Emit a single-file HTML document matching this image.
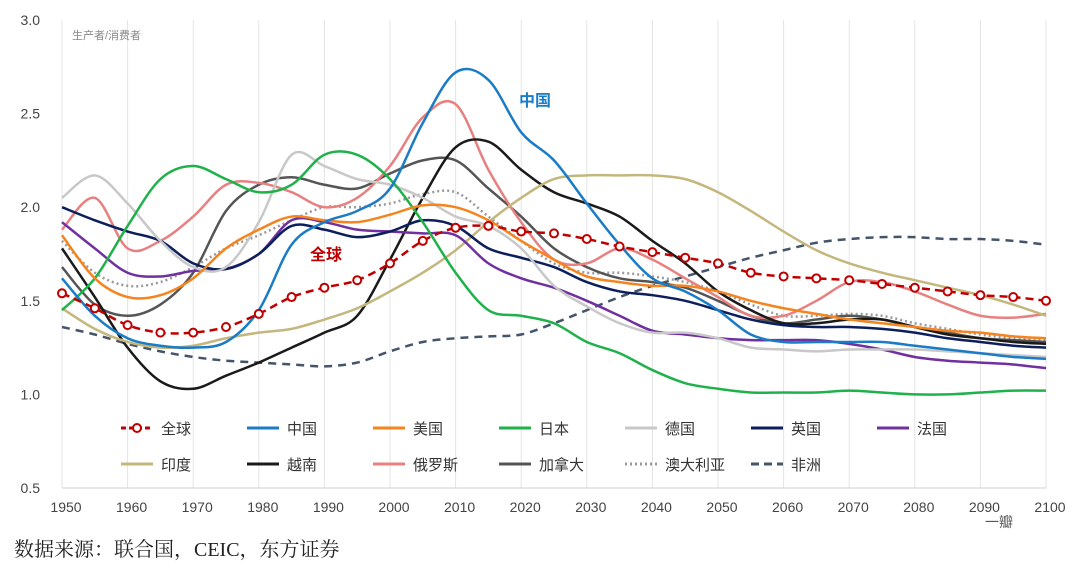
<!DOCTYPE html>
<html><head><meta charset="utf-8"><style>
body{margin:0;background:#fff;width:1080px;height:569px;overflow:hidden;font-family:"Liberation Sans","Noto Sans CJK SC",sans-serif}
svg text{font-family:"Liberation Sans","Noto Sans CJK SC",sans-serif}
</style></head><body>
<svg id="c" width="1080" height="569"></svg>
<script>
const years=[];for(let y=1950;y<=2100;y+=5)years.push(y);
const yTicks=[0.5,1.0,1.5,2.0,2.5,3.0];
const xTicks=[1950,1960,1970,1980,1990,2000,2010,2020,2030,2040,2050,2060,2070,2080,2090,2100];
const global=[1.54,1.46,1.37,1.33,1.33,1.36,1.43,1.52,1.57,1.61,1.70,1.82,1.89,1.90,1.87,1.86,1.83,1.79,1.76,1.73,1.70,1.65,1.63,1.62,1.61,1.59,1.57,1.55,1.53,1.52,1.50];
const china=[1.62,1.42,1.30,1.26,1.25,1.28,1.45,1.80,1.92,1.98,2.10,2.45,2.72,2.68,2.40,2.25,2.02,1.80,1.62,1.55,1.45,1.32,1.28,1.28,1.28,1.28,1.26,1.24,1.22,1.20,1.19];
const usa=[1.85,1.62,1.52,1.53,1.62,1.78,1.88,1.95,1.93,1.92,1.96,2.01,2.00,1.93,1.82,1.72,1.63,1.60,1.58,1.58,1.55,1.50,1.46,1.43,1.40,1.38,1.36,1.34,1.33,1.31,1.30];
const japan=[1.45,1.62,1.90,2.15,2.22,2.15,2.08,2.12,2.28,2.28,2.15,1.92,1.65,1.45,1.42,1.38,1.28,1.22,1.13,1.06,1.03,1.01,1.01,1.01,1.02,1.01,1.00,1.00,1.01,1.02,1.02];
const germany=[2.05,2.17,2.02,1.82,1.68,1.68,1.92,2.28,2.22,2.15,2.12,2.05,1.95,1.90,1.78,1.58,1.47,1.38,1.33,1.33,1.30,1.25,1.24,1.23,1.24,1.24,1.24,1.23,1.22,1.21,1.20];
const uk=[2.00,1.93,1.87,1.82,1.70,1.67,1.75,1.90,1.88,1.84,1.87,1.93,1.90,1.78,1.73,1.68,1.60,1.55,1.53,1.50,1.45,1.40,1.37,1.36,1.36,1.35,1.33,1.30,1.28,1.26,1.25];
const france=[1.92,1.78,1.65,1.63,1.66,1.67,1.75,1.93,1.92,1.88,1.87,1.86,1.85,1.70,1.62,1.57,1.50,1.42,1.34,1.32,1.30,1.29,1.29,1.29,1.27,1.24,1.20,1.18,1.17,1.16,1.14];
const india=[1.46,1.35,1.28,1.25,1.26,1.30,1.33,1.35,1.40,1.46,1.55,1.65,1.77,1.92,2.05,2.15,2.17,2.17,2.17,2.15,2.08,1.98,1.87,1.77,1.70,1.65,1.61,1.57,1.53,1.48,1.42];
const vietnam=[1.78,1.52,1.25,1.07,1.03,1.10,1.17,1.25,1.33,1.42,1.72,2.05,2.32,2.35,2.20,2.08,2.02,1.95,1.82,1.70,1.55,1.45,1.38,1.38,1.40,1.40,1.36,1.32,1.30,1.28,1.27];
const russia=[1.88,2.05,1.78,1.82,1.95,2.12,2.13,2.08,2.00,2.05,2.22,2.48,2.55,2.20,1.92,1.72,1.70,1.78,1.72,1.62,1.52,1.42,1.42,1.50,1.60,1.60,1.55,1.48,1.42,1.41,1.43];
const canada=[1.68,1.48,1.42,1.48,1.65,1.98,2.12,2.16,2.12,2.10,2.18,2.25,2.25,2.10,1.95,1.78,1.68,1.62,1.60,1.57,1.50,1.42,1.38,1.40,1.42,1.40,1.36,1.33,1.30,1.29,1.28];
const australia=[1.82,1.65,1.58,1.60,1.68,1.78,1.85,1.93,2.00,2.00,2.02,2.07,2.08,1.95,1.82,1.70,1.65,1.65,1.63,1.60,1.55,1.48,1.42,1.42,1.43,1.42,1.38,1.35,1.32,1.30,1.29];
const africa=[1.36,1.32,1.27,1.23,1.20,1.18,1.17,1.16,1.15,1.17,1.23,1.28,1.30,1.31,1.32,1.38,1.45,1.52,1.58,1.63,1.68,1.73,1.77,1.81,1.83,1.84,1.84,1.83,1.83,1.82,1.80];

const NS='http://www.w3.org/2000/svg';const svg=document.getElementById('c');
const X0=62,X1=1046,Y0=488,Y1=20;
const xs=y=>X0+(y-1950)/150*(X1-X0);
const ys=v=>Y0-(v-0.5)/2.5*(Y0-Y1);
function mk(t,a,p){const e=document.createElementNS(NS,t);for(const k in a)e.setAttribute(k,a[k]);(p||svg).appendChild(e);return e;}
xTicks.forEach(t=>{
 const g=mk('line',{x1:xs(t),x2:xs(t),y1:Y1,y2:Y0,stroke:'#e4e4e4','stroke-width':1});
 
 
 const l=mk('text',{x:xs(t)+4,y:512,'font-size':14,fill:'#444','text-anchor':'middle'});l.textContent=t;
 
 
});
yTicks.forEach(t=>{
 const l=mk('text',{x:40,y:ys(t)+5,'font-size':14,fill:'#444','text-anchor':'end'});l.textContent=t.toFixed(1);
 
 
});
const ax=mk('line',{x1:X0,x2:X1,y1:Y0,y2:Y0,stroke:'#d0d0d0'});


function path(vals){const p=vals.map((v,i)=>[xs(years[i]),ys(v)]);let d='M'+p[0][0]+','+p[0][1];
 for(let i=0;i<p.length-1;i++){const a=p[i-1]||p[i],b=p[i],c=p[i+1],e=p[i+2]||c;
 d+=' C'+(b[0]+(c[0]-a[0])/6)+','+(b[1]+(c[1]-a[1])/6)+' '+(c[0]-(e[0]-b[0])/6)+','+(c[1]-(e[1]-b[1])/6)+' '+c[0]+','+c[1];}return d;}
const series=[
 ['africa',africa,'#44546a',2.5,'8 6','非洲'],['australia',australia,'#999',2.5,'2 3','澳大利亚'],
 ['canada',canada,'#555',2.5,'','加拿大'],['russia',russia,'#e88080',2.5,'','俄罗斯'],['vietnam',vietnam,'#1a1a1a',2.5,'','越南'],
 ['india',india,'#c4b77e',2.5,'','印度'],['france',france,'#7030a0',2.5,'','法国'],['uk',uk,'#0c1f5c',2.5,'','英国'],
 ['germany',germany,'#c8c8c8',2.5,'','德国'],['japan',japan,'#1fb24a',2.5,'','日本'],['usa',usa,'#f5841f',2.5,'','美国'],
 ['china',china,'#1b7cc6',2.5,'','中国']];
series.forEach(s=>{const e=mk('path',{d:path(s[1]),fill:'none',stroke:s[2],'stroke-width':s[3],'stroke-dasharray':s[4]});
 
 });
const gl=mk('path',{d:path(global),fill:'none',stroke:'#c00000','stroke-width':2.5,'stroke-dasharray':'8 5'});


global.forEach((v,i)=>{const c=mk('circle',{cx:xs(years[i]),cy:ys(v),r:4,fill:'#fff',stroke:'#c00000','stroke-width':2});
 
 });
// legend
const leg=[['全球','#c00000','5 3',1],['中国','#1b7cc6','',0],['美国','#f5841f','',0],['日本','#1fb24a','',0],['德国','#c8c8c8','',0],['英国','#0c1f5c','',0],['法国','#7030a0','',0],
 ['印度','#c4b77e','',0],['越南','#1a1a1a','',0],['俄罗斯','#e88080','',0],['加拿大','#555','',0],['澳大利亚','#999','2 3',0],['非洲','#44546a','8 5',0]];
leg.forEach((l,i)=>{const r=i<7?0:1,c=i<7?i:i-7;const x=121+c*126,y=r?464:428;
 const ln=mk('line',{x1:x,x2:x+32,y1:y,y2:y,stroke:l[1],'stroke-width':3,'stroke-dasharray':l[2]});
 
 
 if(l[3]){const cc=mk('circle',{cx:x+16,cy:y,r:4,fill:'#fff',stroke:l[1],'stroke-width':2});}
 const t=mk('text',{x:x+40,y:y+6,'font-size':15,fill:'#333'});t.textContent=l[0];
 
 });
function lab(x,y,s,txt,fill,w,name){const t=mk('text',{x:x,y:y,'font-size':s,fill:fill,'font-weight':w});t.textContent=txt;
 
 }
lab(519,106,16,'中国','#1b7cc6','bold','china-annotation');
lab(310,260,16,'全球','#c00000','bold','global-annotation');
lab(72,39,11,'生产者/消费者','#888','normal','y-axis-title');
lab(985,527,14,'一瓣','#555','normal','watermark');
</script>
<div style="position:absolute;left:14px;top:533px;font-size:20px;color:#222;font-family:'Liberation Serif','Noto Serif CJK SC',serif">数据来源：联合国，CEIC，东方证券</div>
</body></html>
